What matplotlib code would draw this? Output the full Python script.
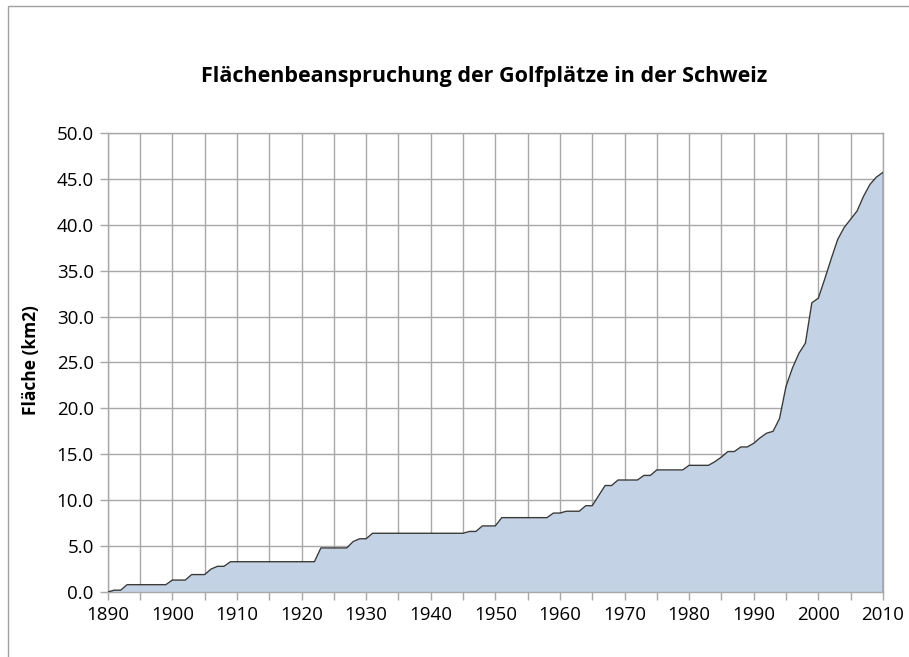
import numpy as np
import matplotlib
matplotlib.use("Agg")
import matplotlib.pyplot as plt
from matplotlib.patches import Rectangle

# Flaechenbeanspruchung der Golfplaetze in der Schweiz (km2), one value per year
years = np.arange(1890, 2011)
area = [
    0.0, 0.2, 0.2, 0.8, 0.8, 0.8, 0.8, 0.8, 0.8, 0.8,          # 1890-1899
    1.3, 1.3, 1.3, 1.9, 1.9, 1.9, 2.5, 2.8, 2.8, 3.3,          # 1900-1909
    3.3, 3.3, 3.3, 3.3, 3.3, 3.3, 3.3, 3.3, 3.3, 3.3,          # 1910-1919
    3.3, 3.3, 3.3, 4.8, 4.8, 4.8, 4.8, 4.8, 5.5, 5.8,          # 1920-1929
    5.8, 6.4, 6.4, 6.4, 6.4, 6.4, 6.4, 6.4, 6.4, 6.4,          # 1930-1939
    6.4, 6.4, 6.4, 6.4, 6.4, 6.4, 6.6, 6.6, 7.2, 7.2,          # 1940-1949
    7.2, 8.1, 8.1, 8.1, 8.1, 8.1, 8.1, 8.1, 8.1, 8.6,          # 1950-1959
    8.6, 8.8, 8.8, 8.8, 9.4, 9.4, 10.5, 11.6, 11.6, 12.2,      # 1960-1969
    12.2, 12.2, 12.2, 12.7, 12.7, 13.3, 13.3, 13.3, 13.3, 13.3,  # 1970-1979
    13.8, 13.8, 13.8, 13.8, 14.2, 14.7, 15.3, 15.3, 15.8, 15.8,  # 1980-1989
    16.2, 16.8, 17.3, 17.5, 18.9, 22.4, 24.4, 26.0, 27.1, 31.5,  # 1990-1999
    32.0, 34.1, 36.3, 38.4, 39.7, 40.6, 41.5, 43.1, 44.4, 45.2,  # 2000-2009
    45.7,                                                       # 2010
]

title = "Flächenbeanspruchung der Golfplätze in der Schweiz"
ylabel = "Fläche (km2)"

plt.rcParams["font.family"] = ["Open Sans", "DejaVu Sans"]

fig = plt.figure(figsize=(9.09, 6.57), dpi=100)
ax = fig.add_axes([0.1185, 0.0989, 0.8528, 0.6987])

grid_col = "#a8a8a8"
ax.fill_between(years, area, 0, color="#c3d3e5", lw=0, zorder=2)
ax.plot(years, area, color="#3a3a3a", lw=1.0, zorder=3)
ax.plot([years[-1], years[-1]], [area[-1], 0], color="#3a3a3a", lw=1.0, zorder=3)

ax.set_xlim(1890, 2010)
ax.set_ylim(0, 50)
ax.set_xticks(np.arange(1890, 2011, 5))
ax.set_xticklabels([str(y) if y % 10 == 0 else "" for y in range(1890, 2011, 5)])
ax.set_yticks(np.arange(0, 50.1, 5))
ax.set_yticklabels([f"{v:.1f}" for v in np.arange(0, 50.1, 5)])
ax.tick_params(axis="both", length=6, width=1, color=grid_col, labelsize=13.5,
               labelcolor="#000000", pad=4)
ax.grid(True, color=grid_col, lw=1, zorder=1)
ax.set_axisbelow(True)
for s in ax.spines.values():
    s.set_color(grid_col)
    s.set_linewidth(1)

fig.text(0.533, 0.883, title, ha="center", va="center", fontsize=15.5,
         fontweight="bold")
fig.text(0.034, 0.452, ylabel, ha="center", va="center", rotation=90,
         fontsize=12.5, fontweight="bold")

# outer chart border (only top and left visible)
fig.patches.append(Rectangle((8 / 909, -0.1), 1.2, 1 - 6 / 657 + 0.1,
                             transform=fig.transFigure, fill=False,
                             edgecolor="#a0a0a0", lw=1))

fig.savefig("out.png", dpi=100)
